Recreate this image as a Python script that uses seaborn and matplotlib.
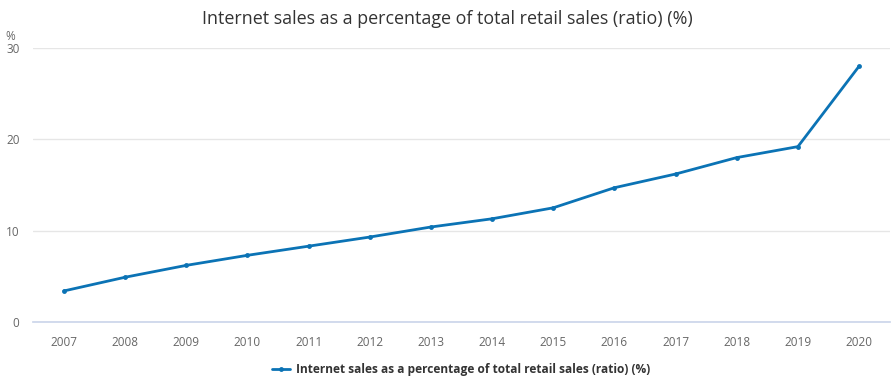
import pandas as pd
import matplotlib.pyplot as plt
import seaborn as sns

# Data
years = [2007, 2008, 2009, 2010, 2011, 2012, 2013, 2014, 2015, 2016, 2017, 2018, 2019, 2020]
share = [3.4, 4.9, 6.2, 7.3, 8.3, 9.3, 10.4, 11.3, 12.5, 14.7, 16.2, 18.0, 19.2, 28.0]
series_name = "Internet sales as a percentage of total retail sales (ratio) (%)"

df = pd.DataFrame({"year": years, "value": share})

sns.set_theme(style="white")
plt.rcParams["font.family"] = ["Open Sans", "DejaVu Sans"]

fig = plt.figure(figsize=(8.95, 3.83), dpi=100)
ax = fig.add_axes([0.0373, 0.1593, 0.9567, 0.7154])

line_color = "#0b73b5"
sns.lineplot(data=df, x="year", y="value", ax=ax, color=line_color, linewidth=2,
             marker="o", markersize=3.5, markeredgewidth=0, label=series_name)

ax.set_xlim(2006.5, 2020.5)
ax.set_ylim(0, 30)
ax.set_xticks(years)
ax.set_xticklabels([str(y) for y in years])
ax.set_yticks([0, 10, 20, 30])
ax.grid(axis="y", color="#e6e6e6", linewidth=1)
ax.set_axisbelow(True)
for s in ["top", "right", "left"]:
    ax.spines[s].set_visible(False)
ax.spines["bottom"].set_color("#ccd6eb")
ax.tick_params(axis="x", colors="#666666", labelsize=8.5, length=8, width=1, pad=2, direction="out", color="#ccd6eb")
ax.tick_params(axis="y", colors="#666666", labelsize=8.5, length=0, pad=10)
ax.set_xlabel("")
ax.set_ylabel("")
ax.text(-0.033, 1.02, "%", transform=ax.transAxes, fontsize=8.5, color="#666666", ha="left", va="bottom")

fig.suptitle("Internet sales as a percentage of total retail sales (ratio) (%)",
             x=0.5, y=0.975, fontsize=12.9, color="#333333")

leg = ax.legend(loc="upper center", bbox_to_anchor=(0.5, -0.11), frameon=False,
                fontsize=8.6, handlelength=1.5, handletextpad=0.5)
for t in leg.get_texts():
    t.set_fontweight("bold")
    t.set_color("#333333")

fig.savefig("out.png", dpi=100)
